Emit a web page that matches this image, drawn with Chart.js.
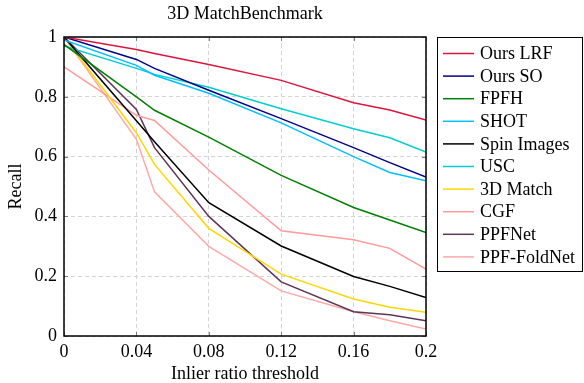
<!DOCTYPE html>
<html>
<head>
<meta charset="utf-8">
<script src="https://cdn.jsdelivr.net/npm/chart.js@4/dist/chart.umd.min.js"></script>
<style>
  html, body { margin: 0; padding: 0; background: #fff; }
  #wrap { width: 584px; height: 383px; }
</style>
</head>
<body>
<div id="wrap"><canvas id="c" width="584" height="383"></canvas></div>
<script>
const chartTitle = '3D MatchBenchmark';
const xAxisTitle = 'Inlier ratio threshold';
const yAxisTitle = 'Recall';

const thresholds = [0, 0.04, 0.05, 0.08, 0.12, 0.16, 0.18, 0.2];
const xTickLabels = ['0', '0.04', '0.08', '0.12', '0.16', '0.2'];
const yTickLabels = ['0', '0.2', '0.4', '0.6', '0.8', '1'];

const seriesNames = ['Ours LRF', 'Ours SO', 'FPFH', 'SHOT', 'Spin Images', 'USC', '3D Match', 'CGF', 'PPFNet', 'PPF-FoldNet'];

const oursLRF    = [1.00, 0.958, 0.945, 0.908, 0.855, 0.780, 0.756, 0.722];
const oursSO     = [1.00, 0.925, 0.895, 0.822, 0.727, 0.630, 0.580, 0.532];
const fpfh       = [0.975, 0.800, 0.755, 0.665, 0.537, 0.430, 0.388, 0.346];
const shot       = [0.99, 0.905, 0.872, 0.812, 0.713, 0.600, 0.547, 0.519];
const spinImages = [1.00, 0.720, 0.650, 0.446, 0.301, 0.199, 0.166, 0.129];
const usc        = [0.97, 0.895, 0.875, 0.832, 0.760, 0.693, 0.663, 0.615];
const match3d    = [1.00, 0.680, 0.574, 0.360, 0.207, 0.124, 0.096, 0.079];
const cgf        = [0.90, 0.738, 0.721, 0.555, 0.352, 0.322, 0.293, 0.224];
const ppfNet     = [1.00, 0.758, 0.630, 0.400, 0.181, 0.081, 0.071, 0.051];
const ppfFoldNet = [1.00, 0.658, 0.482, 0.300, 0.151, 0.081, 0.051, 0.023];

const seriesValues = [oursLRF, oursSO, fpfh, shot, spinImages, usc, match3d, cgf, ppfNet, ppfFoldNet];
const seriesColors = ['#dc143c', '#00008b', '#008000', '#00bfff', '#000000', '#00ced1', '#ffd700', '#ff9a9a', '#5e3458', '#ffa8a8'];

const FONT = '"Liberation Serif", "Times New Roman", serif';

const datasets = seriesNames.map((name, k) => ({
  label: name,
  data: thresholds.map((x, i) => ({ x: x, y: seriesValues[k][i] })),
  borderColor: seriesColors[k],
  backgroundColor: seriesColors[k],
  borderWidth: 1.5,
  pointRadius: 0,
  tension: 0,
  fill: false
}));

const framePlugin = {
  id: 'frame',
  afterDraw(chart) {
    const ctx = chart.ctx;
    const a = chart.chartArea;
    const xs = chart.scales.x, ys = chart.scales.y;
    ctx.save();
    // inner tick marks on all four sides
    ctx.strokeStyle = '#808080';
    ctx.lineWidth = 1;
    ctx.setLineDash([]);
    const tl = 4;
    xs.ticks.forEach(t => {
      const px = Math.round(xs.getPixelForValue(t.value)) + 0.5;
      ctx.beginPath();
      ctx.moveTo(px, a.top); ctx.lineTo(px, a.top + tl);
      ctx.moveTo(px, a.bottom); ctx.lineTo(px, a.bottom - tl);
      ctx.stroke();
    });
    ys.ticks.forEach(t => {
      const py = Math.round(ys.getPixelForValue(t.value)) + 0.5;
      ctx.beginPath();
      ctx.moveTo(a.left, py); ctx.lineTo(a.left + tl, py);
      ctx.moveTo(a.right, py); ctx.lineTo(a.right - tl, py);
      ctx.stroke();
    });
    // frame
    ctx.strokeStyle = '#000';
    ctx.lineWidth = 1.5;
    ctx.strokeRect(a.left, a.top, a.right - a.left, a.bottom - a.top);
    // title
    ctx.fillStyle = '#000';
    ctx.font = '18px ' + FONT;
    ctx.textAlign = 'center';
    ctx.textBaseline = 'middle';
    ctx.fillText(chartTitle, (a.left + a.right) / 2, 14);
    // legend
    const lx = 437.5, ly = 37.5, lw = 145, lh = 234;
    ctx.lineWidth = 1;
    ctx.strokeStyle = '#000';
    ctx.strokeRect(lx, ly, lw, lh);
    ctx.textAlign = 'left';
    chart.data.datasets.forEach((ds, i) => {
      const y = 53.5 + i * 22.6;
      ctx.strokeStyle = ds.borderColor;
      ctx.lineWidth = 1.5;
      ctx.beginPath();
      ctx.moveTo(443, y); ctx.lineTo(474, y);
      ctx.stroke();
      ctx.fillStyle = '#000';
      ctx.fillText(ds.label, 480, y + 1);
    });
    ctx.restore();
  }
};

new Chart(document.getElementById('c'), {
  type: 'line',
  data: { datasets: datasets },
  options: {
    responsive: false,
    animation: false,
    events: [],
    layout: { padding: { left: 0, top: 37, right: 158, bottom: 0 } },
    plugins: { legend: { display: false }, title: { display: false }, tooltip: { enabled: false } },
    scales: {
      x: {
        type: 'linear', min: 0, max: 0.2,
        ticks: {
          stepSize: 0.04, padding: 5, color: '#000',
          font: { family: FONT, size: 18 },
          maxRotation: 0, autoSkip: false,
          callback: (v, i) => xTickLabels[i]
        },
        grid: { color: '#d4d4d4', lineWidth: 1, drawTicks: false },
        border: { display: false, dash: [4, 3] },
        title: { display: true, text: xAxisTitle, color: '#000', font: { family: FONT, size: 18, lineHeight: 1 }, padding: { top: 0, bottom: 0 } },
        afterFit(s) { s.height = 47; }
      },
      y: {
        type: 'linear', min: 0, max: 1,
        ticks: {
          stepSize: 0.2, padding: 7, color: '#000',
          font: { family: FONT, size: 18 },
          callback: (v, i) => yTickLabels[i]
        },
        grid: { color: '#d4d4d4', lineWidth: 1, drawTicks: false },
        border: { display: false, dash: [4, 3] },
        title: { display: true, text: yAxisTitle, color: '#000', font: { family: FONT, size: 18, lineHeight: 1 }, padding: { top: 7, bottom: 0 } },
        afterFit(s) { s.width = 64; }
      }
    }
  },
  plugins: [framePlugin]
});
</script>
</body>
</html>
